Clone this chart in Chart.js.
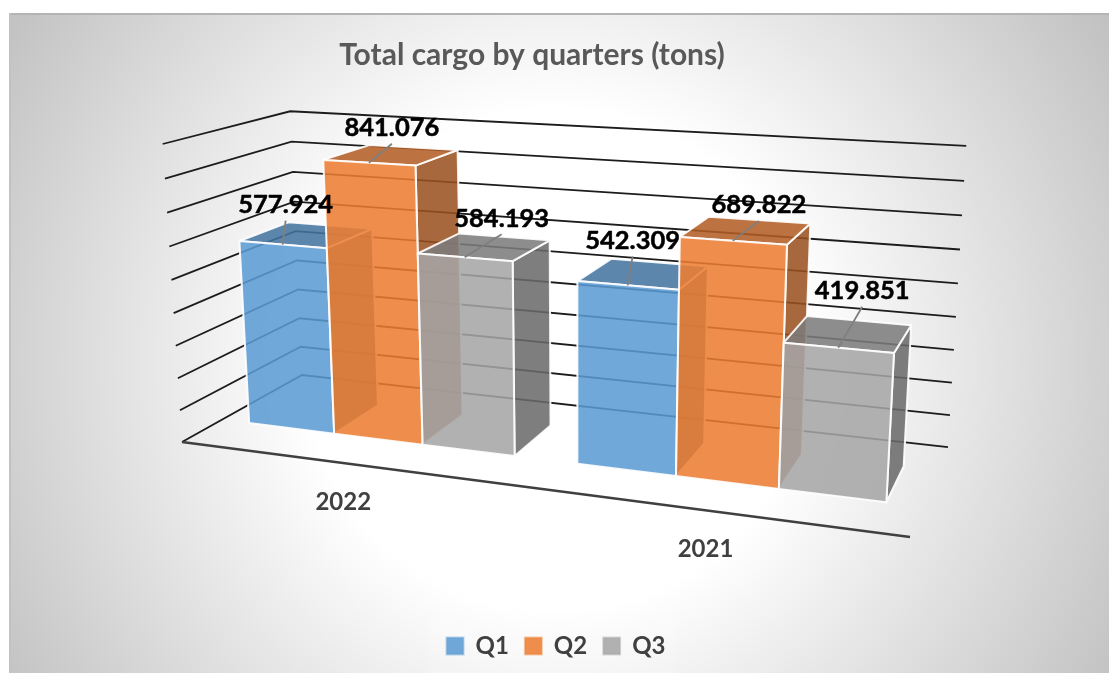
<!DOCTYPE html>
<html><head><meta charset="utf-8">
<style>html,body{margin:0;padding:0;background:#fff}canvas{display:block}</style>
<script src="https://cdn.jsdelivr.net/npm/chart.js@4/dist/chart.umd.min.js"></script>
</head><body>
<div style="width:1109px;height:673px;position:relative"><canvas id="c" width="1109" height="673"></canvas></div>
<script>
const categories = ['2022', '2021'];
const q1 = [577924, 542309];
const q2 = [841076, 689822];
const q3 = [584193, 419851];
const seriesNames = ['Q1', 'Q2', 'Q3'];
const seriesColors = [[91,155,213],[237,125,49],[165,165,165]];
const axisMax = 900000, axisStep = 100000;

// Camera of the 3D box: origin, three vanishing points and the box's far corners.
const cam = {
  O:[182,442], VU:[-4053,-111], VV:[578,6550], VD:[1187,-119],
  U:[910,537], V:[163,144], D:[302,375]
};
const weight = (O,Vp,P,i) => (P[i]-O[i])/(Vp[i]-P[i]);
const wU = weight(cam.O,cam.VU,cam.U,0), wV = weight(cam.O,cam.VV,cam.V,1), wD = weight(cam.O,cam.VD,cam.D,0);
function proj(u,v,d){
  const p=u*wU,q=v*wV,r=d*wD,w=1+p+q+r;
  return [(cam.O[0]+p*cam.VU[0]+q*cam.VV[0]+r*cam.VD[0])/w,
          (cam.O[1]+p*cam.VU[1]+q*cam.VV[1]+r*cam.VD[1])/w];
}
const barDepth=[0.305,0.71];
const labelNudge=[[[3,-40],[5,-45]],[[23,-35],[26,-36]],[[37,-39],[24,-57]]];
const rgba=(c,f,a)=>`rgba(${c.map(x=>Math.round(x*f)).join(',')},${a})`;
const fmt=v=>String(v).replace(/\B(?=(\d{3})+$)/g,'.');
const FONT='Lato, "Open Sans", sans-serif';

function poly(ctx,pts,fill,stroke){
  ctx.beginPath();pts.forEach((p,i)=>i?ctx.lineTo(p[0],p[1]):ctx.moveTo(p[0],p[1]));ctx.closePath();
  if(fill){ctx.fillStyle=fill;ctx.fill();}
  if(stroke){ctx.strokeStyle=stroke;ctx.lineWidth=2;ctx.lineJoin='round';ctx.stroke();}
}
function seg(ctx,a,b,col,w){ctx.beginPath();ctx.moveTo(a[0],a[1]);ctx.lineTo(b[0],b[1]);ctx.strokeStyle=col;ctx.lineWidth=w;ctx.stroke();}

const backdrop={id:'backdrop',beforeDraw(chart){
  const {ctx,width,height}=chart;
  const x0=9,y0=13;
  ctx.save();
  ctx.beginPath();ctx.rect(x0,y0,width-x0,height-y0);ctx.clip();
  const g=ctx.createRadialGradient(556,360,0,556,360,650);
  g.addColorStop(0,'#ffffff');g.addColorStop(0.385,'#ffffff');g.addColorStop(1,'#c1c1c1');
  ctx.fillStyle=g;ctx.fillRect(x0,y0,width-x0,height-y0);
  ctx.fillStyle='rgba(255,255,255,.15)';ctx.fillRect(428,619,247,54);
  ctx.restore();
  ctx.save();
  seg(ctx,[x0,y0+1],[width,y0+1],'#b4b4b4',2);
  seg(ctx,[x0+1,y0],[x0+1,height],'#c2c2c2',2);
  ctx.restore();
}};

const box3d={id:'box3d',beforeDatasetsDraw(chart){
  const {ctx,chartArea:ca,scales:{x,y}}=chart;
  const U=px=>(px-ca.left)/(ca.right-ca.left), Vv=py=>(ca.bottom-py)/(ca.bottom-ca.top);
  ctx.save();
  // gridlines on back and side walls
  y.ticks.forEach(t=>{
    const v=Vv(y.getPixelForValue(t.value));
    const a=proj(0,v,0),b=proj(0,v,1),c=proj(1,v,1);
    ctx.beginPath();ctx.moveTo(a[0],a[1]);ctx.lineTo(b[0],b[1]);ctx.lineTo(c[0],c[1]);
    ctx.strokeStyle='#1c1c1c';ctx.lineWidth=1.8;ctx.lineJoin='miter';ctx.stroke();
  });
  seg(ctx,proj(0,0,0),proj(1,0,0),'#404040',2.6);
  // bars
  const tops=[];
  categories.forEach((_,j)=>{
    chart.data.datasets.forEach((ds,i)=>{
      const el=chart.getDatasetMeta(i).data[j];
      const u0=U(el.x-el.width/2),u1=U(el.x+el.width/2),v0=Vv(el.base),v1=Vv(el.y);
      const [d0,d1]=barDepth,c=seriesColors[i];
      const line='rgba(255,255,255,.9)';
      poly(ctx,[proj(u1,v0,d0),proj(u1,v0,d1),proj(u1,v1,d1),proj(u1,v1,d0)],rgba(c,.65,.87),line);
      poly(ctx,[proj(u0,v1,d0),proj(u1,v1,d0),proj(u1,v1,d1),proj(u0,v1,d1)],rgba(c,.75,.87),line);
      poly(ctx,[proj(u0,v0,d0),proj(u1,v0,d0),proj(u1,v1,d0),proj(u0,v1,d0)],rgba(c,1,.87),line);
      tops.push({p:proj((u0+u1)/2,v1,d0),n:labelNudge[i][j],t:fmt(ds.data[j])});
    });
  });
  // data labels with leader lines
  tops.forEach(o=>{const lx=o.p[0]+o.n[0],ly=o.p[1]+o.n[1];seg(ctx,o.p,[lx,ly+16],'#7f7f7f',1.8);});
  ctx.fillStyle='#000';ctx.strokeStyle='#000';ctx.lineWidth=.5;ctx.textAlign='center';ctx.textBaseline='middle';
  ctx.font='700 25.5px '+FONT;
  tops.forEach(o=>{ctx.fillText(o.t,o.p[0]+o.n[0],o.p[1]+o.n[1]);ctx.strokeText(o.t,o.p[0]+o.n[0],o.p[1]+o.n[1]);});
  // category labels below the floor edge
  ctx.fillStyle='#404040';ctx.font='700 24px '+FONT;
  categories.forEach((lab,j)=>{
    const p=proj(U(x.getPixelForTick(j)),0,0);
    ctx.fillText(lab,p[0],p[1]+39);
  });
  ctx.restore();
  return false;
}};

new Chart(document.getElementById('c'),{
  type:'bar',
  data:{labels:categories,datasets:[q1,q2,q3].map((d,i)=>({
    label:seriesNames[i],data:d,
    backgroundColor:rgba(seriesColors[i],1,.87),
    borderColor:rgba(seriesColors[i],1,.4),borderWidth:2,
    barPercentage:1,categoryPercentage:0.82
  }))},
  plugins:[backdrop,box3d],
  options:{
    responsive:false,animation:false,
    layout:{padding:{left:3,right:0,top:0,bottom:5}},
    scales:{
      x:{display:false,offset:true},
      y:{position:'right',min:0,max:axisMax,ticks:{stepSize:axisStep,display:false},
         grid:{display:false},border:{display:false},afterFit(s){s.width=48;}}
    },
    plugins:{
      tooltip:{enabled:false},
      title:{display:true,text:'Total cargo by quarters (tons)',fullSize:false,
        color:'#595959',font:{family:FONT,size:30,weight:'700'},padding:{top:37,bottom:10}},
      legend:{position:'bottom',labels:{boxWidth:17,boxHeight:17,padding:16,color:'#404040',
        font:{family:FONT,size:24,weight:'700'}}}
    }
  }
});
</script>
</body></html>
